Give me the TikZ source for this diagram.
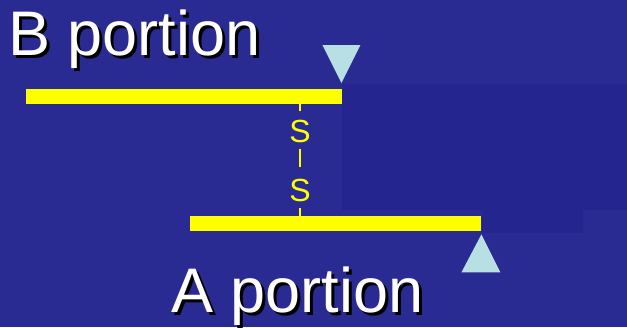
\documentclass[tikz,border=0pt]{standalone}
\usepackage{fontspec}
\setmainfont{Liberation Sans}
\usetikzlibrary{positioning}
\definecolor{slideblue}{RGB}{42,42,147}
\definecolor{slidedark}{RGB}{37,37,144}
\definecolor{markcyan}{RGB}{184,224,228}
\definecolor{baryellow}{RGB}{255,255,0}

\begin{document}
\begin{tikzpicture}[
  x=1pt, y=-1pt,
  bar/.style={fill=baryellow, draw=none, inner sep=0pt, minimum height=15pt},
  tri/.style={fill=markcyan, draw=none},
  title/.style={font=\fontsize{63}{63}\selectfont, inner sep=0pt, anchor=base west},
  sep/.style={text=baryellow, font=\fontsize{32}{32}\selectfont, inner sep=0pt},
  sline/.style={draw=baryellow, line width=1.6pt}
]
% ---- background ----
\fill[slideblue] (0,0) rectangle (627,327);
\useasboundingbox (0,0) rectangle (627,327);
\fill[slidedark] (342,84) rectangle (627,210);
\fill[slidedark] (482,170) rectangle (583,233);

% ---- titles ----
\node[title, black] (Bshadow) at (11,58) {B portion};
\node[title, white] (Btitle)  at (8,55)  {B portion};
\node[title, black] (Ashadow) at (174,315) {A portion};
\node[title, white] (Atitle)  at (171,312) {A portion};

% ---- bars ----
\node[bar, minimum width=316pt, anchor=north west] (barB) at (26,89)  {};
\node[bar, minimum width=291pt, anchor=north west] (barA) at (190,216) {};

% ---- end marks ----
\fill[tri] (barB.north east) ++(-20,-44) -- ++(38,0) -- ++(-19,38) -- cycle;
\fill[tri] (barA.south east) ++(0,3) -- ++(19,38) -- ++(-39,0) -- cycle;

% ---- S -- S link ----
\node[sep] (sTop) at (300,131) {S};
\node[sep] (sBot) at (300,190) {S};
\draw[sline, shorten >=8pt] (barB.south -| sTop) -- (sTop.north);
\draw[sline, shorten <=6pt, shorten >=11pt] (sTop.south) -- (sBot.north);
\draw[sline, shorten <=6pt] (sBot.south) -- (barA.north -| sBot);
\end{tikzpicture}
\end{document}
